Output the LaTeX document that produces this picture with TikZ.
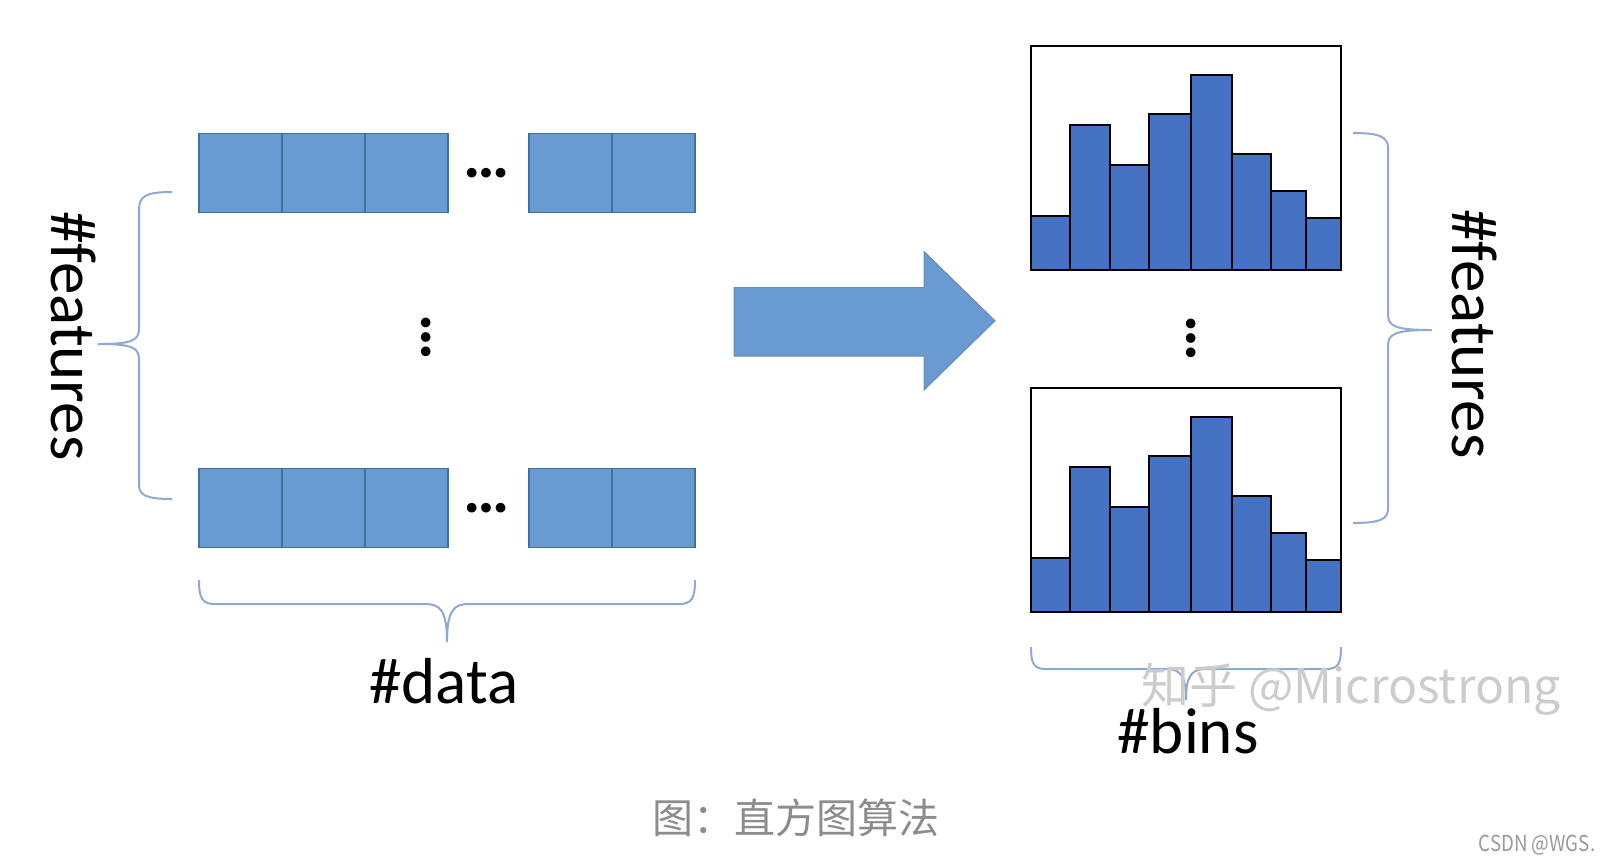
\documentclass[tikz,border=0pt]{standalone}
\usepackage{fontspec}
\setmainfont{Carlito}
\newfontfamily\cjk{Noto Sans CJK SC}
\usetikzlibrary{positioning}
\definecolor{clCell}{HTML}{6A9AD2}
\definecolor{clCellEdge}{HTML}{41719C}
\definecolor{clBar}{HTML}{4672C4}
\definecolor{clBrace}{HTML}{8FAAD2}
\definecolor{clCaption}{HTML}{8C8C8C}
\tikzset{
  cell/.style={rectangle, draw=clCellEdge, fill=clCell, line width=0.6pt,
               minimum width=41.5pt, minimum height=39.5pt, inner sep=0pt},
  bar/.style={draw=black, fill=clBar, line width=1.2pt},
  histbox/.style={rectangle, draw=black, line width=1pt, inner sep=0pt,
                  minimum width=155pt, minimum height=112pt},
  brace/.style={draw=clBrace, line width=1pt},
  bigarrow/.style={draw=clCellEdge!80, fill=clCell, line width=0.5pt},
  countlabel/.style={font=\fontsize{32.5}{39}\selectfont, inner sep=0pt},
  ellip/.style={font=\fontsize{32.5}{39}\selectfont\bfseries, inner sep=0pt},
}

\begin{document}
\begin{tikzpicture}[x=0.5pt, y=-0.5pt]
  \useasboundingbox (0,0) rectangle (1610,864);

  % data rows (first and last feature)
  \foreach \row/\cy in {top/173, bot/508}{
    \foreach \cx [count=\i] in {240.5,323.5,406.5,570.5,653.5}
      \node[cell] (\row\i) at (\cx,\cy) {};
    \node[ellip] (\row dots) at (487,\cy) {…};
  }
  \node[ellip, rotate=90] (rowvdots) at (426,337) {…};

  % histograms (one per feature)
  \foreach \hname/\yb in {histtop/270, histbot/612}{
    \foreach \xa/\xb/\h in {1031/1070/54, 1070/1110/145, 1110/1149/105, 1149/1191/156,
                            1191/1232/195, 1232/1271/116, 1271/1306/79, 1306/1341/52}
      \draw[bar] (\xa,\yb) rectangle (\xb,\yb-\h);
    \node[histbox] (\hname) at (1186,\yb-112) {};
  }
  \node[ellip, rotate=90] (histvdots) at (1191,338) {…};

  % big arrow
  \draw[bigarrow] (734,287.5) -- (924,287.5) -- (924,251.5) -- (995,320.7)
    -- (924,390) -- (924,356) -- (734,356) -- cycle;

  % braces
  \draw[brace] (172,192) .. controls (146,192) and (139,196) .. (139,210) -- (139,328)
    .. controls (139,340) and (134,344) .. (98,344)
    .. controls (134,344) and (139,348) .. (139,360) -- (139,485)
    .. controls (139,495) and (146,499) .. (172,499);
  \draw[brace] (199,580) .. controls (199,598) and (202,604) .. (215,604) -- (425,604)
    .. controls (440,604) and (447,610) .. (447,642)
    .. controls (447,610) and (454,604) .. (469,604) -- (679,604)
    .. controls (692,604) and (695,598) .. (695,580);
  \draw[brace] (1353,133) .. controls (1380,133) and (1388,137) .. (1388,148) -- (1388,314)
    .. controls (1388,326) and (1394,330) .. (1432,330)
    .. controls (1394,330) and (1388,334) .. (1388,346) -- (1388,509)
    .. controls (1388,519) and (1380,523) .. (1353,523);
  \draw[brace] (1031,647) .. controls (1031,664) and (1034,669) .. (1046,669) -- (1166,669)
    .. controls (1180,669) and (1186,675) .. (1186,700)
    .. controls (1186,675) and (1192,669) .. (1206,669) -- (1326,669)
    .. controls (1338,669) and (1341,664) .. (1341,647);

  % labels
  \node[countlabel, rotate=-90] (featleft) at (74,336) {\#features};
  \node[countlabel, rotate=-90] (featright) at (1475,334) {\#features};
  \node[countlabel] (data) at (444,681) {\#data};
  \node[countlabel] (bins) at (1188,731) {\#bins};

  % watermark + caption
  \node[font=\cjk\fontsize{24}{28}\selectfont, text=gray!40] (mark) at (1351,689) {知乎 @Microstrong};
  \node[font=\cjk\fontsize{20.5}{24}\selectfont, text=clCaption] (caption) at (796,818) {图：直方图算法};
  \node[font=\cjk\fontsize{11}{13}\selectfont, text=gray!80, xscale=0.85] (csdn) at (1537,845) {CSDN @WGS.};
\end{tikzpicture}
\end{document}
